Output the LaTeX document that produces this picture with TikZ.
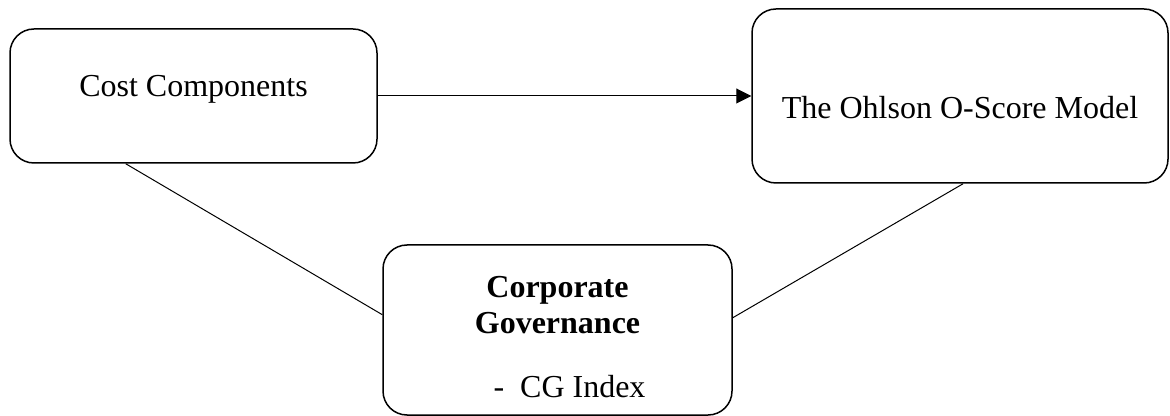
\documentclass[tikz,border=0pt]{standalone}
\usepackage{fontspec}
\setmainfont{Liberation Serif}
\usetikzlibrary{positioning, arrows.meta}

\begin{document}
\begin{tikzpicture}[x=0.5pt, y=-0.5pt, node distance=2cm, on grid,
    box/.style={draw, rounded corners=12pt, line width=0.75pt, align=center,
        inner sep=0pt, font=\fontsize{16pt}{18pt}\selectfont},
    link/.style={line width=0.5pt}]
\useasboundingbox (0,0) rectangle (1170,416);
\node[box, minimum width=183.5pt, minimum height=67pt, text height=12pt, text depth=11pt] (cost) at (193.5,96) {Cost Components};
\node[box, minimum width=208pt, minimum height=87pt, text height=28pt, text depth=5pt] (ohlson) [right=383.25pt of cost] {The Ohlson O-Score Model};
\node[box, minimum width=174.5pt, minimum height=85pt, text height=72pt, text depth=5pt] (cg) [below right=117pt and 182pt of cost]
    {\textbf{Corporate}\\\textbf{Governance}\\[14pt]\hspace*{12pt}-\ \ CG Index};
\path[link]
    (cost)      edge [-{Triangle[length=7.5pt, width=7.5pt]}] (ohlson)
    (cost.-135) edge (cg.175.5)
    (cg.4.5)    edge (ohlson.-88);
\end{tikzpicture}
\end{document}
